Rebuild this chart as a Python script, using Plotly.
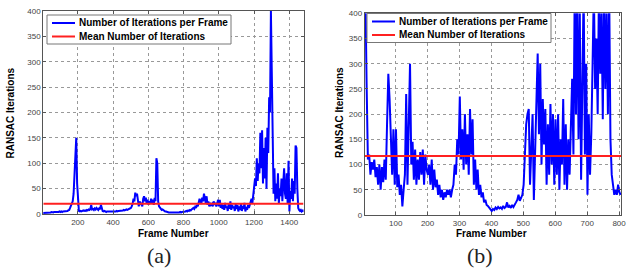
import numpy as np
import plotly.graph_objects as go

# ---------------- data ----------------
# (a) iterations per frame, sampled every 5 frames starting at frame 1
frame_step_a = 5
iters_a = [
    2, 2, 3, 2, 3, 3, 2, 3, 3, 3, 4, 3, 3, 4, 4, 3, 4, 4, 4, 5,
    4, 5, 4, 5, 5, 5, 6, 5, 6, 7, 8, 12, 18, 22, 25, 40, 75, 110, 150, 60,
    15, 6, 5, 6, 5, 6, 7, 6, 7, 6, 8, 7, 9, 8, 10, 18, 9, 10, 8, 11,
    9, 12, 10, 8, 11, 9, 18, 8, 6, 5, 6, 5, 4, 5, 5, 4, 5, 4, 5, 4,
    5, 5, 4, 5, 6, 5, 6, 6, 7, 6, 7, 7, 8, 7, 8, 9, 8, 9, 10, 10,
    12, 15, 20, 30, 25, 42, 35, 40, 20, 15, 25, 18, 22, 15, 30, 35, 25, 32, 20, 28,
    18, 25, 20, 30, 22, 28, 18, 32, 25, 110, 100, 25, 15, 12, 10, 8, 9, 7, 6, 5,
    5, 4, 4, 3, 3, 3, 2, 3, 2, 3, 2, 3, 3, 2, 3, 3, 4, 3, 4, 4,
    4, 5, 5, 6, 5, 7, 6, 8, 7, 9, 10, 12, 10, 14, 12, 18, 15, 22, 30, 25,
    20, 32, 25, 40, 28, 22, 35, 18, 25, 15, 22, 18, 20, 15, 25, 18, 22, 15, 20, 28,
    15, 28, 12, 20, 10, 18, 8, 22, 12, 15, 6, 20, 10, 25, 8, 18, 12, 15, 6, 20,
    10, 18, 5, 15, 8, 20, 6, 16, 10, 22, 5, 14, 8, 18, 12, 20, 25, 30, 22, 40,
    45, 70, 55, 110, 65, 100, 80, 160, 90, 165, 60, 130, 70, 150, 50, 170, 120, 230, 200, 400,
    280, 150, 40, 90, 25, 60, 30, 80, 20, 50, 35, 70, 25, 60, 90, 40, 30, 80, 20, 105,
    5, 45, 30, 70, 25, 65, 40, 135, 130, 50, 12, 8, 6, 8, 5, 7, 6, 8,
]
mean_a = 20

# (b) iterations per frame, sampled every 4 frames starting at frame 1
frame_step_b = 4
iters_b = [
    450, 450, 260, 110, 120, 80, 105, 90, 110, 75, 95, 60, 100, 50, 95, 65, 110, 70, 180, 280, 230, 150, 80, 170, 60,
    170, 55, 80, 40, 60, 17, 50, 80, 240, 60, 180, 300, 100, 145, 70, 130, 60, 110, 70, 125, 80, 130, 60, 120, 90,
    80, 100, 60, 110, 50, 90, 55, 70, 40, 60, 35, 50, 30, 45, 35, 50, 40, 50, 35, 50, 60, 100, 80, 150, 120,
    235, 110, 170, 90, 200, 100, 160, 80, 210, 120, 190, 60, 110, 50, 90, 40, 60, 35, 45, 25, 30, 20, 18, 15, 10,
    8, 12, 10, 15, 12, 16, 13, 15, 12, 18, 14, 16, 25, 15, 18, 14, 20, 16, 22, 25, 30, 40, 28, 35, 40,
    60, 120, 180, 200, 210, 60, 150, 200, 30, 120, 250, 320, 160, 300, 100, 230, 140, 210, 60, 180, 80, 220, 100, 200, 60,
    190, 80, 200, 50, 150, 100, 230, 60, 180, 50, 150, 80, 200, 270, 120, 450, 200, 450, 150, 400, 70, 300, 450, 120, 300,
    40, 200, 80, 160, 300, 450, 250, 350, 200, 450, 280, 400, 190, 450, 250, 400, 200, 450, 150, 80, 60, 40, 50, 40, 60,
    45, 40,
]
mean_b = 117

x_ticks_a = [200, 400, 600, 800, 1000, 1200, 1400]
x_ticks_b = [100, 200, 300, 400, 500, 600, 700, 800]
y_ticks = [0, 50, 100, 150, 200, 250, 300, 350, 400]
x_range_a = [4, 1481]
x_range_b = [3, 807]

frames_a = 1 + frame_step_a * np.arange(len(iters_a))
frames_b = 1 + frame_step_b * np.arange(len(iters_b))

name_iter = "Number of Iterations per Frame"
name_mean = "Mean Number of Iterations"
BLUE = "#0000ff"
RED = "#ff2020"

fig = go.Figure()
fig.add_trace(go.Scatter(x=frames_a, y=iters_a, mode="lines", name=name_iter,
                         line=dict(color=BLUE, width=2), xaxis="x", yaxis="y", showlegend=False))
fig.add_trace(go.Scatter(x=x_range_a, y=[mean_a, mean_a], mode="lines", name=name_mean,
                         line=dict(color=RED, width=2), xaxis="x", yaxis="y", showlegend=False))
fig.add_trace(go.Scatter(x=frames_b, y=iters_b, mode="lines", name=name_iter,
                         line=dict(color=BLUE, width=2), xaxis="x2", yaxis="y2", showlegend=False))
fig.add_trace(go.Scatter(x=x_range_b, y=[mean_b, mean_b], mode="lines", name=name_mean,
                         line=dict(color=RED, width=2), xaxis="x2", yaxis="y2", showlegend=False))

W, H = 634, 269
tickfont = dict(family="Liberation Sans, Arial, sans-serif", size=8, color="#444")
axis_common = dict(showline=True, linecolor="#555", linewidth=1, mirror="ticks",
                   ticks="inside", ticklen=3, tickcolor="#555", automargin=False,
                   showgrid=True, gridcolor="#999", griddash="dot", gridwidth=1,
                   zeroline=False, tickfont=tickfont)

fig.update_layout(
    template="none",
    width=W, height=H,
    margin=dict(l=0, r=0, t=0, b=0),
    paper_bgcolor="white", plot_bgcolor="white",
    showlegend=False,
    xaxis=dict(domain=[43.3 / W, 303.5 / W], range=x_range_a, tickvals=x_ticks_a,
               anchor="y", **axis_common),
    yaxis=dict(domain=[1 - 214 / H, 1 - 11 / H], range=[0, 400], tickvals=y_ticks,
               anchor="x", **axis_common),
    xaxis2=dict(domain=[364.7 / W, 621.3 / W], range=x_range_b, tickvals=x_ticks_b,
                anchor="y2", **axis_common),
    yaxis2=dict(domain=[1 - 215 / H, 1 - 13.3 / H], range=[0, 400], tickvals=y_ticks,
                anchor="x2", **axis_common),
)

# ---- compact legends (box + line samples + labels), positioned in paper pixels ----
legend_font = dict(family="Liberation Sans, Arial, sans-serif", size=10, color="black", weight="bold")
def px_x(v):
    return v / W
def px_y(v):
    return 1 - v / H

for (lx, ly) in [(47, 15), (367, 13.5)]:
    box_w, box_h = 184, 29
    fig.add_shape(type="rect", xref="paper", yref="paper",
                  x0=px_x(lx), x1=px_x(lx + box_w), y0=px_y(ly + box_h), y1=px_y(ly),
                  line=dict(color="#777", width=1), fillcolor="white", layer="above")
    for i, (nm, col) in enumerate([(name_iter, BLUE), (name_mean, RED)]):
        yy = ly + 8 + i * 13.5
        fig.add_shape(type="line", xref="paper", yref="paper",
                      x0=px_x(lx + 5), x1=px_x(lx + 28), y0=px_y(yy), y1=px_y(yy),
                      line=dict(color=col, width=2), layer="above")
        fig.add_annotation(xref="paper", yref="paper", x=px_x(lx + 30), y=px_y(yy),
                           xanchor="left", yanchor="middle", showarrow=False,
                           text=nm, font=legend_font)

title_font = dict(family="Liberation Sans, Arial, sans-serif", size=10, color="black", weight="bold")
cap_font = dict(family="Liberation Serif, DejaVu Serif, serif", size=22, color="#222")
ann = [
    dict(text="Frame Number", x=173 / W, y=1 - 233 / H, font=title_font),
    dict(text="Frame Number", x=492 / W, y=1 - 233 / H, font=title_font),
    dict(text="RANSAC Iterations", x=9.5 / W, y=1 - 113 / H, font=title_font, textangle=-90),
    dict(text="RANSAC Iterations", x=339 / W, y=1 - 113 / H, font=title_font, textangle=-90),
    dict(text="(a)", x=159 / W, y=1 - 255 / H, font=cap_font),
    dict(text="(b)", x=480 / W, y=1 - 255 / H, font=cap_font),
]
for a in ann:
    fig.add_annotation(xref="paper", yref="paper", xanchor="center", yanchor="middle",
                       showarrow=False, **a)

fig.write_html("out.html", config={"displayModeBar": False},
               post_script="document.body.style.margin='0';document.body.style.overflow='hidden';")
